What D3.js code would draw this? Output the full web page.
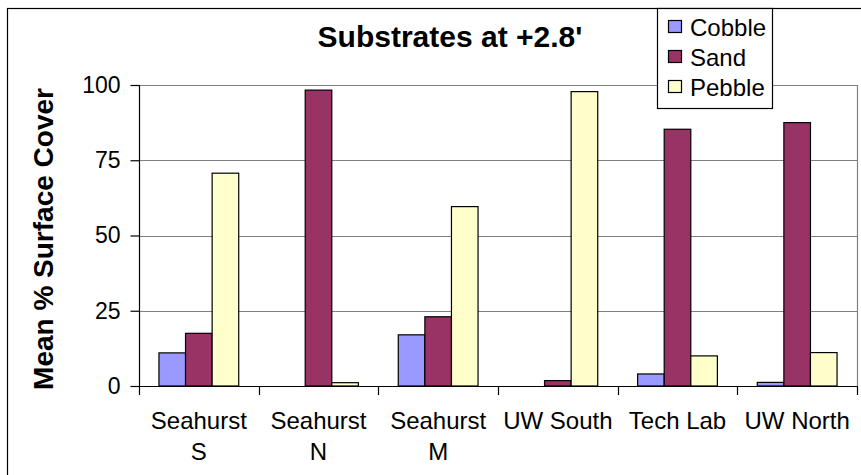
<!DOCTYPE html>
<html>
<head>
<meta charset="utf-8">
<script src="https://cdn.jsdelivr.net/npm/d3@7"></script>
<style>
  html, body { margin: 0; padding: 0; background: #fff; }
  svg { display: block; }
  text { font-family: "Liberation Sans", Arial, sans-serif; fill: #000; }
</style>
</head>
<body>
<svg id="chart" width="861" height="475"></svg>
<script>
// ---- data ----
const categories = [["Seahurst", "S"], ["Seahurst", "N"], ["Seahurst", "M"], ["UW South"], ["Tech Lab"], ["UW North"]];
const seriesNames = ["Cobble", "Sand", "Pebble"];
const cobble = [11, 0, 17, 0, 4, 1.2];
const sand = [17.5, 98.3, 23, 1.8, 85.3, 87.5];
const pebble = [70.7, 1.1, 59.6, 97.8, 10, 11.1];
const yTicks = [0, 25, 50, 75, 100];
const titleText = "Substrates at +2.8'";
const yTitle = "Mean % Surface Cover";
const colors = ["#9999FF", "#993366", "#FFFFCC"];

(function () {
const seriesValues = [cobble, sand, pebble];
const catKeys = categories.map(c => c.join(" "));

const svg = d3.select("#chart");

// outer chart border (cropped on right/bottom)
svg.append("rect").attr("x", 7.5).attr("y", 8.5).attr("width", 900).attr("height", 500)
  .attr("fill", "none").attr("stroke", "#000").attr("stroke-width", 1.2);

const pL = 139, pR = 857, pT = 85, pB = 386;

const x0 = d3.scaleBand().domain(catKeys).range([pL, pR]).padding(0);
const B = x0.bandwidth();
const x1 = d3.scaleBand().domain(seriesNames).range([B / 6, B * 5 / 6]).padding(0);
const y = d3.scaleLinear().domain([0, 100]).range([pB, pT]);

// gridlines
svg.append("g").selectAll("line").data(yTicks.filter(t => t > 0)).join("line")
  .attr("x1", pL).attr("x2", pR)
  .attr("y1", d => Math.round(y(d)) + 0.5).attr("y2", d => Math.round(y(d)) + 0.5)
  .attr("stroke", "#808080").attr("stroke-width", 1.2);

// plot area right border
svg.append("line").attr("x1", pR + 0.5).attr("x2", pR + 0.5)
  .attr("y1", y(100)).attr("y2", y(0))
  .attr("stroke", "#808080").attr("stroke-width", 1.2);

// bars
const groups = svg.append("g").selectAll("g").data(catKeys).join("g")
  .attr("transform", d => `translate(${x0(d)},0)`);
groups.selectAll("rect").data((d, i) => seriesNames.map((s, j) => ({ s, j, v: seriesValues[j][i] })).filter(e => e.v > 0))
  .join("rect")
  .attr("x", d => x1(d.s))
  .attr("y", d => y(d.v))
  .attr("width", x1.bandwidth())
  .attr("height", d => y(0) - y(d.v))
  .attr("fill", d => colors[d.j])
  .attr("stroke", "#000").attr("stroke-width", 1.2);

// y axis
const yAxis = d3.axisLeft(y).tickValues(yTicks).tickSize(9).tickPadding(10).tickFormat(d3.format("d"));
const gy = svg.append("g").attr("transform", `translate(${pL + 0.5},0)`).call(yAxis);
gy.select(".domain").attr("stroke", "#000").attr("stroke-width", 1.2).attr("d", `M0,${y(100)}V${y(0)}`);
gy.selectAll(".tick line").attr("stroke", "#000").attr("stroke-width", 1.2);
gy.selectAll(".tick text").attr("font-size", 23).attr("font-family", "Liberation Sans, Arial, sans-serif").attr("fill", "#000");

// x axis line + ticks at category boundaries
const gx = svg.append("g");
gx.append("line").attr("x1", pL).attr("x2", pR + 1).attr("y1", pB + 0.5).attr("y2", pB + 0.5)
  .attr("stroke", "#000").attr("stroke-width", 1.2);
const bounds = catKeys.map(k => x0(k)).concat([pR]);
gx.selectAll("line.tk").data(bounds).join("line").attr("class", "tk")
  .attr("x1", d => Math.round(d) + 0.5).attr("x2", d => Math.round(d) + 0.5)
  .attr("y1", pB).attr("y2", pB + 9)
  .attr("stroke", "#000").attr("stroke-width", 1.2);

// x labels
categories.forEach((c, i) => {
  const cx = x0(catKeys[i]) + B / 2;
  const t = svg.append("text").attr("x", cx).attr("y", 429).attr("text-anchor", "middle").attr("font-size", 24);
  c.forEach((line, k) => {
    t.append("tspan").attr("x", cx).attr("y", 429 + k * 31).text(line);
  });
});

// title
svg.append("text").attr("x", 450).attr("y", 47).attr("text-anchor", "middle")
  .attr("font-size", 30).attr("font-weight", "bold").text(titleText);

// y title
svg.append("text").attr("transform", "translate(53,239) rotate(-90)").attr("text-anchor", "middle")
  .attr("font-size", 28).attr("font-weight", "bold").text(yTitle);

// legend
const lg = svg.append("g");
lg.append("rect").attr("x", 657.5).attr("y", 8.5).attr("width", 115).attr("height", 100)
  .attr("fill", "#fff").attr("stroke", "#000").attr("stroke-width", 1.2);
seriesNames.forEach((s, j) => {
  const cy = 27 + j * 30;
  lg.append("rect").attr("x", 668.5).attr("y", cy - 6.5).attr("width", 13).attr("height", 12)
    .attr("fill", colors[j]).attr("stroke", "#000").attr("stroke-width", 1.2);
  lg.append("text").attr("x", 690).attr("y", cy + 8.5).attr("font-size", 24).text(s);
});
})();
</script>
</body>
</html>
